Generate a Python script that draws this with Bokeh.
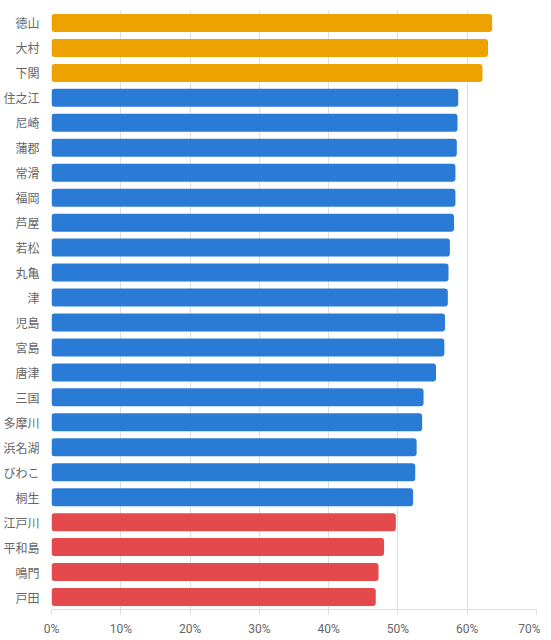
from bokeh.plotting import figure
from bokeh.models import ColumnDataSource, FactorRange, FixedTicker, NumeralTickFormatter
from bokeh.transform import factor_cmap
from bokeh.embed import file_html
from bokeh.resources import INLINE

venues = ["徳山", "大村", "下関", "住之江", "尼崎", "蒲郡", "常滑", "福岡", "芦屋", "若松",
          "丸亀", "津", "児島", "宮島", "唐津", "三国", "多摩川", "浜名湖", "びわこ", "桐生",
          "江戸川", "平和島", "鳴門", "戸田"]
rates = [0.636, 0.630, 0.622, 0.587, 0.586, 0.585, 0.583, 0.583, 0.581, 0.575,
         0.573, 0.572, 0.568, 0.567, 0.555, 0.537, 0.535, 0.527, 0.525, 0.522,
         0.497, 0.480, 0.472, 0.468]
groups = ["top"] * 3 + ["mid"] * 17 + ["low"] * 4
x_ticks = [0, 0.1, 0.2, 0.3, 0.4, 0.5, 0.6, 0.7]

src = ColumnDataSource(dict(venue=venues, rate=rates, group=groups))

p = figure(frame_width=485, frame_height=599, output_backend="svg", toolbar_location=None,
           title=None,
           y_range=FactorRange(factors=list(reversed(venues))), x_range=(0, 0.7),
           min_border_left=43, min_border_right=4, min_border_top=10, min_border_bottom=0)

p.hbar(y="venue", right="rate", left=0, height=0.72, source=src, line_color=None,
       border_radius=3,
       fill_color=factor_cmap("group", palette=["#EEA200", "#2A7BD6", "#E44A4B"],
                              factors=["top", "mid", "low"]))

p.outline_line_color = None
p.background_fill_color = "white"
p.border_fill_color = "white"

p.xaxis.ticker = FixedTicker(ticks=x_ticks)
p.xaxis.formatter = NumeralTickFormatter(format="0%")
p.xaxis.axis_line_color = "#dddddd"
p.xaxis.major_tick_line_color = "#dddddd"
p.xaxis.major_tick_out = 5
p.xaxis.major_tick_in = 0
p.xaxis.minor_tick_line_color = None
p.xaxis.major_label_standoff = 7
p.xaxis.major_label_text_font = "Roboto"
p.xaxis.major_label_text_font_size = "12px"
p.xaxis.major_label_text_color = "#666666"

p.yaxis.axis_line_color = None
p.yaxis.major_tick_line_color = None
p.yaxis.minor_tick_line_color = None
p.yaxis.major_label_standoff = 6
p.yaxis.major_label_text_font = "Noto Sans CJK JP"
p.yaxis.major_label_text_font_size = "12px"
p.yaxis.major_label_text_color = "#666666"

p.xgrid.grid_line_color = "#dddddd"
p.ygrid.grid_line_color = None

open("out.html", "w").write(file_html(p, INLINE))
